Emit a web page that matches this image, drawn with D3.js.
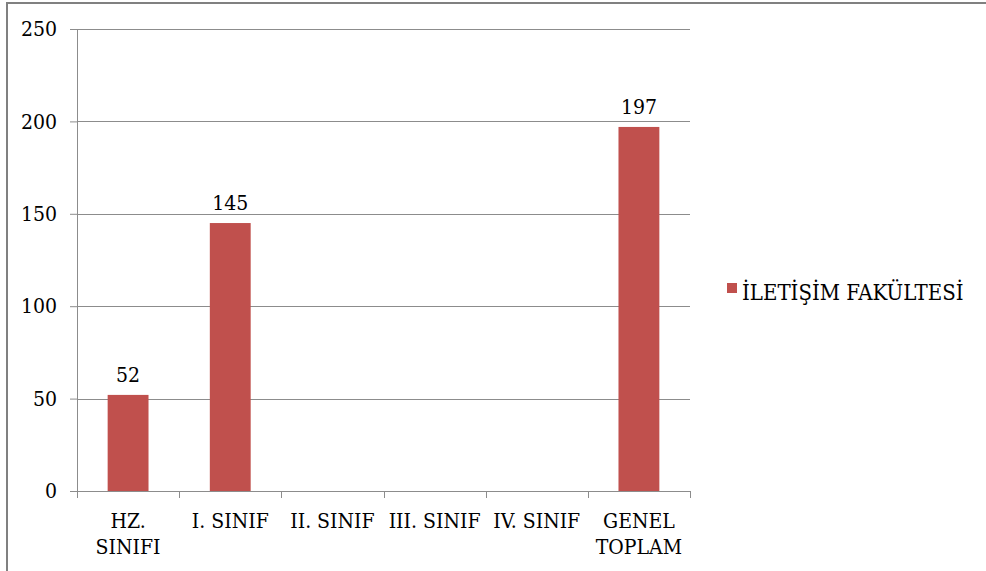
<!DOCTYPE html>
<html>
<head>
	<meta charset="utf-8">
	<title>bar chart</title>
	<script src="https://d3js.org/d3.v7.min.js"></script>
	<style>
		body { margin: 0; background: #fff; }
	</style>
</head>
<body>
	<svg id="chart" width="986" height="571"></svg>
	<script type="text/javascript">

		// categories (line breaks as in the original)
		var categories = ['HZ.\nSINIFI', 'I. SINIF', 'II. SINIF', 'III. SINIF', 'IV. SINIF', 'GENEL\nTOPLAM'];
		var values = [52, 145, null, null, null, 197];
		var seriesName = 'İLETİŞİM FAKÜLTESİ';
		var yTicks = [0, 50, 100, 150, 200, 250];

		var serif = "'DejaVu Serif Condensed', 'DejaVu Serif', serif";
		var mLeft = 77, mRight = 690, mTop = 29, mBottom = 491;
		var barColor = '#C0504D', gridColor = '#8C8C8C';

		var svg = d3.select('#chart');

		// outer frame
		svg.append('rect')
			.attr('x', 7).attr('y', 3)
			.attr('width', 980).attr('height', 572)
			.attr('fill', 'none')
			.attr('stroke', '#808080')
			.attr('stroke-width', 2);

		var yScale = d3.scaleLinear().domain([0, 250]).range([mBottom, mTop]);
		var xBand = d3.scaleBand().domain(categories).range([mLeft, mRight]);
		var xBar = d3.scaleBand().domain(categories).range([mLeft, mRight])
			.paddingInner(0.6).paddingOuter(0.3);

		// gridlines
		svg.append('g')
			.selectAll('line')
			.data(yTicks.slice(1))
			.enter().append('line')
			.attr('x1', mLeft).attr('x2', mRight)
			.attr('y1', d => Math.round(yScale(d)) + 0.5).attr('y2', d => Math.round(yScale(d)) + 0.5)
			.attr('stroke', gridColor).attr('stroke-width', 1);

		// y axis
		var yAxis = d3.axisLeft(yScale).tickValues(yTicks).tickSize(7).tickPadding(13);
		svg.append('g')
			.attr('transform', 'translate(' + mLeft + ',0)')
			.call(yAxis)
			.attr('font-family', serif)
			.attr('font-size', 21)
			.call(g => g.select('.domain').attr('stroke', gridColor).attr('d', 'M0.5,' + mTop + 'V' + mBottom))
			.call(g => g.selectAll('.tick line').attr('stroke', gridColor))
			.call(g => g.selectAll('.tick text').attr('fill', '#000'));

		// x axis line and ticks at band boundaries
		var xg = svg.append('g');
		xg.append('line')
			.attr('x1', mLeft).attr('x2', mRight)
			.attr('y1', mBottom + 0.5).attr('y2', mBottom + 0.5)
			.attr('stroke', gridColor);
		xg.selectAll('line.tk')
			.data(categories.map(c => xBand(c)).concat([mRight]))
			.enter().append('line')
			.attr('class', 'tk')
			.attr('x1', d => Math.round(d) + 0.5).attr('x2', d => Math.round(d) + 0.5)
			.attr('y1', mBottom).attr('y2', mBottom + 7)
			.attr('stroke', gridColor);

		// category labels
		var cl = svg.append('g')
			.selectAll('text')
			.data(categories)
			.enter().append('text')
			.attr('text-anchor', 'middle')
			.attr('font-family', serif)
			.attr('font-size', 21)
			.attr('transform', d => 'translate(' + (xBand(d) + xBand.bandwidth() / 2) + ',' + 528 + ')');
		cl.selectAll('tspan')
			.data(d => d.split('\n'))
			.enter().append('tspan')
			.attr('x', 0)
			.attr('dy', (d, i) => i ? 26 : 0)
			.text(d => d);

		// bars
		var data = categories.map((c, i) => ({ cat: c, v: values[i] })).filter(d => d.v != null);
		svg.append('g')
			.selectAll('rect')
			.data(data)
			.enter().append('rect')
			.attr('x', d => xBar(d.cat))
			.attr('y', d => yScale(d.v))
			.attr('width', xBar.bandwidth())
			.attr('height', d => yScale(0) - yScale(d.v))
			.attr('fill', barColor);

		// value labels
		svg.append('g')
			.selectAll('text')
			.data(data)
			.enter().append('text')
			.attr('x', d => xBar(d.cat) + xBar.bandwidth() / 2)
			.attr('y', d => yScale(d.v) - 13)
			.attr('text-anchor', 'middle')
			.attr('font-family', serif)
			.attr('font-size', 21)
			.text(d => d.v);

		// legend
		var legend = svg.append('g').attr('transform', 'translate(727,283)');
		legend.append('rect')
			.attr('width', 10).attr('height', 10)
			.attr('fill', barColor);
		legend.append('text')
			.attr('x', 15).attr('y', 17)
			.attr('font-family', serif)
			.attr('font-size', 22)
			.text(seriesName);

	</script>
</body>
</html>
